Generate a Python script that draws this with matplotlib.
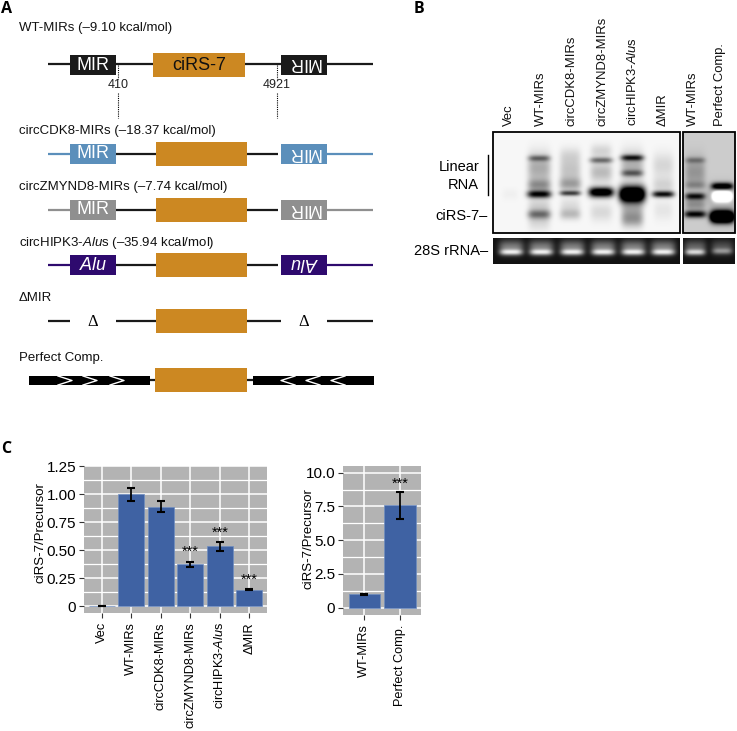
import numpy as np
import matplotlib
matplotlib.use("Agg")
import matplotlib.pyplot as plt
from matplotlib.patches import Rectangle

W, H = 737, 731
FONT = ['Liberation Sans', 'DejaVu Sans']
plt.rcParams['font.family'] = FONT
plt.rcParams['mathtext.fontset'] = 'custom'
plt.rcParams['mathtext.rm'] = 'Liberation Sans'
plt.rcParams['mathtext.it'] = 'Liberation Sans:italic'
plt.rcParams['mathtext.default'] = 'regular'

# ---------- data ----------
cats_left = ['Vec', 'WT-MIRs', 'circCDK8-MIRs', 'circZMYND8-MIRs', r'circHIPK3-$\mathit{Alu}$s', 'ΔMIR']
vals_left = [0.003, 1.00, 0.89, 0.375, 0.535, 0.15]
errs_left = [0.002, 0.055, 0.05, 0.025, 0.04, 0.005]
stars_left = [None, None, None, 0.49, 0.657, 0.236]
cats_right = ['WT-MIRs', 'Perfect Comp.']
vals_right = [1.0, 7.6]
errs_right = [0.05, 1.0]
stars_right = [None, 9.16]
ticks_left = [0, 0.25, 0.5, 0.75, 1.0, 1.25]
ticklabels_left = ['0', '0.25', '0.50', '0.75', '1.00', '1.25']
ticks_right = [0, 2.5, 5, 7.5, 10]
ticklabels_right = ['0', '2.5', '5.0', '7.5', '10.0']

blot_labels = ['Vec', 'WT-MIRs', 'circCDK8-MIRs', 'circZMYND8-MIRs', r'circHIPK3-$\mathit{Alu}$s', 'ΔMIR', 'WT-MIRs', 'Perfect Comp.']
blot_label_x = [509, 541, 572, 603, 633, 663, 693, 720]

# blot bands: lane centre, y, half width, sigma y, darkness
bands_main = [
    (510, 194, 8, 6, .03),
    (539, 158, 11, 3, .42), (539, 168, 11.5, 15, .3), (539, 185, 11.5, 6, .35), (539, 194, 12, 3.8, .95),
    (539, 205, 11, 7, .14), (539, 214, 11.5, 4.6, .45), (539, 220, 11, 10, .14),
    (570, 155, 10.5, 8, .1), (570, 170, 10.5, 13, .2), (570, 184, 11, 6.5, .3), (570, 193, 10.5, 2.6, .68),
    (570, 205, 10, 8, .1), (570, 214, 10.5, 5.5, .22),
    (601, 160, 11.5, 3, .48), (601, 151, 10.5, 7, .14), (601, 172, 11, 10, .24), (601, 192, 12.5, 5, 1.25), (601, 212, 11, 9, .12),
    (632, 157.5, 11.5, 3, .72), (632, 173, 11, 3.4, .45), (632, 165, 11.5, 14, .28), (632, 194, 13, 8, 1.7),
    (632, 212, 11, 12, .3), (632, 220, 11, 7, .2),
    (663, 165, 10.5, 12, .13), (663, 185, 10.5, 8, .14), (663, 194, 11, 3.2, .9), (663, 210, 9.5, 10, .07),
]
bands_side = [
    (695, 160, 10, 3, .27), (695, 172, 10, 15, .22), (695, 185, 10.5, 4, .2), (695, 196, 10, 3.4, .72),
    (695, 204, 10, 6, .25), (695, 214, 11, 3.6, .8),
    (722, 196, 15, 11, .2), (722, 186, 11, 3.6, .95), (722, 216.5, 12, 6, 1.9), (722, 196, 9.5, 5, -1.3),
]
lanes_rrna = [511, 541, 572, 603, 633, 663]


def px_axes(l, t, r, b, **kw):
    return fig.add_axes([l / W, 1 - b / H, (r - l) / W, (b - t) / H], **kw)


def blot(x0, x1, y0, y1, bg, bands):
    xs = np.arange(x0, x1, .5)
    ys = np.arange(y0, y1, .5)
    X, Y = np.meshgrid(xs, ys)
    im = np.full(X.shape, float(bg))
    for cx, cy, hw, sy, amp in bands:
        im -= amp * np.exp(-np.abs((X - cx) / hw) ** 4) * np.exp(-((Y - cy) / sy) ** 2)
    return np.clip(im, 0, 1)


fig = plt.figure(figsize=(W / 100, H / 100), dpi=100)
ax = fig.add_axes([0, 0, 1, 1])
ax.set_axis_off()

# ---------- panel B images ----------
IM = dict(cmap='gray', vmin=0, vmax=1, aspect='auto', zorder=1, interpolation='bilinear')
ax.imshow(blot(493, 680, 132, 233, .97, bands_main), extent=(493, 680, 233, 132), **IM)
ax.imshow(blot(683, 735, 132, 233, .80, bands_side), extent=(683, 735, 233, 132), **IM)
rrna = [(x, 252, 11.5, 3, -.62) for x in lanes_rrna] + [(x, 247, 12.5, 7, -.42) for x in lanes_rrna]
rrna2 = [(695, 252, 10, 3, -.6), (695, 247, 11, 7, -.32), (722, 251, 10, 3, -.35), (722, 247, 11, 7, -.25)]
ax.imshow(blot(493, 680, 238, 264, .07, rrna), extent=(493, 680, 264, 238), **IM)
ax.imshow(blot(683, 735, 238, 264, .07, rrna2), extent=(683, 735, 264, 238), **IM)
ax.set_xlim(0, W)
ax.set_ylim(H, 0)
for x0, x1 in [(493, 680), (683, 735)]:
    ax.add_patch(Rectangle((x0, 132), x1 - x0, 101, fill=False, ec='black', lw=1.3, zorder=2))
for x, s in zip(blot_label_x, blot_labels):
    ax.text(x, 126, s, rotation=90, ha='center', va='bottom', fontsize=9.4, color='#111111')
ax.text(459, 167, 'Linear', ha='center', va='center', fontsize=10.5)
ax.text(463, 185, 'RNA', ha='center', va='center', fontsize=10.5)
ax.plot([487.7, 487.7], [155, 195], color='black', lw=1)
ax.text(488, 216, 'ciRS-7–', ha='right', va='center', fontsize=10.5)
ax.text(488, 251, '28S rRNA–', ha='right', va='center', fontsize=10.5)

# ---------- panel A ----------
ORANGE, BLUE, GREY, PURPLE = '#cc8822', '#5b8fbb', '#8f8f8f', '#2e0a6e'
LK = '#1a1a1a'


def seg(x0, x1, y, c=LK, lw=1.6):
    ax.plot([x0, x1], [y, y], color=c, lw=lw, solid_capstyle='butt', zorder=2)


def box(x0, x1, y0, y1, c, s=None, rot=0, tc='white', fs=13, ec=None):
    ax.add_patch(Rectangle((x0, y0), x1 - x0, y1 - y0, fc=c, ec=ec or 'none', lw=.6, zorder=3))
    if s:
        dy = -2 if rot else 0
        ax.text((x0 + x1) / 2, (y0 + y1) / 2 + dy, s, color=tc, rotation=rot, ha='center', va='center', fontsize=fs, zorder=4)


def title(y, s):
    ax.text(19, y, s, ha='left', va='center', fontsize=9.5, color='#111111')


title(28, 'WT-MIRs (–9.10 kcal/mol)')
seg(48, 373, 64)
box(70.5, 116, 55, 75, LK, 'MIR')
box(281, 327, 55, 75, LK, 'MIR', 180)
box(153, 245, 53, 77, ORANGE, 'ciRS-7', tc='#111111')
for x, s in [(118.5, '410'), (277, '4921')]:
    ax.plot([x, x], [65, 79], color='black', lw=.8, ls=(0, (1, 1)), zorder=2)
    ax.plot([x, x], [93, 118], color='black', lw=.8, ls=(0, (1, 1)), zorder=2)
    ax.text(x, 85, s, ha='center', va='center', fontsize=9, color='#222222')

rows = [(131, 154, 'circCDK8-MIRs (–18.37 kcal/mol)', BLUE, 'MIR'),
        (187, 210, 'circZMYND8-MIRs (–7.74 kcal/mol)', GREY, 'MIR'),
        (243, 265, r'circHIPK3-$\mathit{Alu}$s (–35.94 kcal/mol)', PURPLE, r'$\mathit{Alu}$')]
for ty, y, s, c, lab in rows:
    title(ty, s)
    seg(48, 70.5, y, c)
    seg(327, 373, y, c)
    seg(116, 156, y)
    seg(247, 278, y)
    box(70.5, 116, y - 10, y + 10, c, lab)
    box(281, 327, y - 10, y + 10, c, lab, 180)
    box(156, 247, y - 12, y + 12, ORANGE)

title(298, 'ΔMIR')
seg(48, 70.5, 321)
seg(116, 156, 321)
seg(247, 281, 321)
seg(327, 373, 321)
box(156, 247, 309, 333, ORANGE)
for x in (93, 304):
    ax.text(x, 322, 'Δ', ha='center', va='center', fontsize=12, family='Liberation Serif')

title(358, 'Perfect Comp.')
seg(150, 155, 380)
seg(246, 253, 380)
box(29, 150, 376, 385, 'black')
box(253, 374, 376, 385, 'black')
box(155, 246.7, 368, 392, ORANGE)
for x in (58, 83, 110):
    ax.plot([x, x + 14, x], [376, 380.5, 385], color='white', lw=1, zorder=5)
for x in (295, 320, 345):
    ax.plot([x, x - 14, x], [376, 380.5, 385], color='white', lw=1, zorder=5)

# panel letters
for x, y, s in [(1, 9, 'A'), (414, 9, 'B'), (1, 449, 'C')]:
    ax.text(x, y, s, fontsize=11.5, fontweight='bold', family='Open Sans', ha='left', va='center')


# ---------- panel C ----------
def barpanel(a, cats, vals, errs, stars, ticks, labels, ylim, xlim):
    a.set_facecolor('#b3b3b3')
    x = np.arange(len(cats))
    a.bar(x, vals, width=0.89, color='#3f62a3', edgecolor='#6f8dc0', lw=.5, zorder=3)
    a.errorbar(x, vals, yerr=errs, fmt='none', ecolor='black', elinewidth=1.3, capsize=2.6, capthick=1.5, zorder=4)
    for xi, s in zip(x, stars):
        if s is not None:
            a.text(xi, s, '***', ha='center', va='center', fontsize=10.5, zorder=5)
    a.set_xlim(*xlim)
    a.set_ylim(*ylim)
    a.set_xticks(x)
    a.set_xticklabels(cats, rotation=90, fontsize=9.2)
    a.set_yticks(ticks)
    a.set_yticklabels(labels, fontsize=11)
    a.set_yticks((np.array(ticks[:-1]) + np.array(ticks[1:])) / 2, minor=True)
    a.grid(True, which='major', color='white', lw=1.1, zorder=1)
    a.grid(True, which='minor', axis='y', color='white', lw=.9, zorder=1)
    a.tick_params(which='minor', length=0)
    a.tick_params(which='major', length=3.6, width=.8, color='#333333', pad=2)
    a.tick_params(axis='x', which='major', pad=3)
    a.set_axisbelow(True)
    for sp in a.spines.values():
        sp.set_visible(False)
    a.set_ylabel('ciRS-7/Precursor', fontsize=9.5)


left = px_axes(84, 466, 267, 613)
barpanel(left, cats_left, vals_left, errs_left, stars_left, ticks_left, ticklabels_left, (-0.059, 1.253), (-0.6, 5.6))
left.yaxis.set_label_coords((46 - 84) / (267 - 84), 0.544)
right = px_axes(343, 466, 421, 615)
barpanel(right, cats_right, vals_right, errs_right, stars_right, ticks_right, ticklabels_right, (-0.54, 10.5), (-0.6, 1.59))
right.yaxis.set_label_coords((314 - 343) / (421 - 343), 0.51)

fig.savefig('out.png', dpi=100)
